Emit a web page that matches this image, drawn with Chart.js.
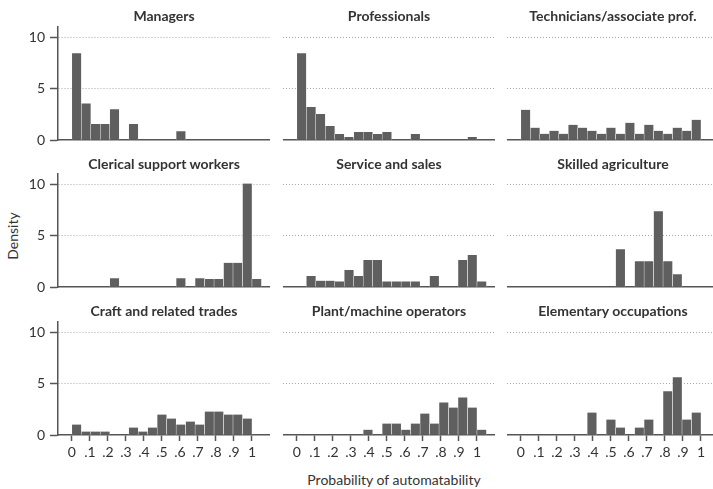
<!DOCTYPE html>
<html><head><meta charset="utf-8">
<script src="https://cdn.jsdelivr.net/npm/chart.js@4"></script>
<style>
html,body{margin:0;padding:0;background:#fff;}
body{width:713px;height:489px;overflow:hidden;position:relative;font-family:Lato,sans-serif;color:#333;}
canvas{position:absolute;}
.ttl{position:absolute;font-weight:bold;font-size:14px;white-space:nowrap;transform:translate(-50%,-50%);color:#333;}
.axt{position:absolute;font-size:14px;white-space:nowrap;transform:translate(-50%,-50%);color:#333;}
</style></head><body>
<div class="axt" style="left:12px;top:236px;transform:translate(-50%,-50%) rotate(-90deg);">Density</div>
<div class="axt" style="left:394px;top:479px;">Probability of automatability</div>
<script>
// bin centres (bins of width 1/19 starting at 0)
const binCenters = [0.0263,0.0789,0.1316,0.1842,0.2368,0.2895,0.3421,0.3947,0.4474,0.5,
                    0.5526,0.6053,0.6579,0.7105,0.7632,0.8158,0.8684,0.9211,0.9737,1.0263];
const xTickValues = [0,0.1,0.2,0.3,0.4,0.5,0.6,0.7,0.8,0.9,1];
const xTickLabels = ['0','.1','.2','.3','.4','.5','.6','.7','.8','.9','1'];
const yTickValues = [0,5,10];
const yTickLabels = ['0','5','10'];
const panelTitles = ['Managers','Professionals','Technicians/associate prof.',
                     'Clerical support workers','Service and sales','Skilled agriculture',
                     'Craft and related trades','Plant/machine operators','Elementary occupations'];

const managers      = [8.45,3.56,1.55,1.55,3.0,0,1.55,0,0,0,0,0.84,0,0,0,0,0,0,0,0];
const professionals = [8.44,3.22,2.54,1.37,0.59,0.29,0.78,0.78,0.59,0.78,0,0,0.59,0,0,0,0,0,0.29,0];
const technicians   = [2.94,1.2,0.61,0.9,0.61,1.48,1.2,0.9,0.61,1.2,0.61,1.68,0.61,1.48,0.9,0.61,1.2,0.9,1.97,0];
const clerical      = [0,0,0,0,0.85,0,0,0,0,0,0,0.85,0,0.85,0.78,0.78,2.35,2.35,10.07,0.78];
const serviceSales  = [0,1.07,0.62,0.62,0.54,1.66,1.07,2.63,2.63,0.54,0.54,0.54,0.54,0,1.07,0,0,2.63,3.12,0.54];
const agriculture   = [0,0,0,0,0,0,0,0,0,0,3.67,0,2.5,2.5,7.37,2.5,1.23,0,0,0];
const craft         = [1.01,0.33,0.33,0.33,0,0,0.72,0.33,0.72,1.99,1.6,1.01,1.31,1.01,2.29,2.29,1.99,1.99,1.6,0];
const plant         = [0,0,0,0,0,0,0,0.52,0,1.11,1.11,0.52,1.11,2.09,1.11,3.17,2.68,3.66,2.68,0.52];
const elementary    = [0,0,0,0,0,0,0,2.19,0,1.5,0.72,0,0.72,1.5,0,4.25,5.62,1.5,2.19,0];

const panelSeries = [managers,professionals,technicians,clerical,serviceSales,agriculture,craft,plant,elementary];

// layout
const colLeft = [0,283,507];
const colWidth = [270,212,212];
const yAxisW = [58,0,0];
const rowTop = [27,174,322];
const titleY = [15,163,310];
const plotH = 113;
const padTop = 12;

const AXIS = '#555';
const BAR = '#5f5f5f';
const GRID = '#a8a8a8';
const FONT = {family:'Lato', size:14};

panelSeries.forEach((series, i) => {
  const r = Math.floor(i/3), c = i%3;
  const xH = r === 2 ? 34 : 16;
  const cv = document.createElement('canvas');
  const w = colWidth[c], h = plotH + padTop + xH;
  cv.width = w; cv.height = h;
  cv.style.left = colLeft[c] + 'px';
  cv.style.top = (rowTop[r] - padTop) + 'px';
  cv.style.width = w + 'px'; cv.style.height = h + 'px';
  document.body.appendChild(cv);

  const t = document.createElement('div');
  t.className = 'ttl';
  t.textContent = panelTitles[i];
  t.style.left = (colLeft[c] + yAxisW[c] + (colWidth[c]-yAxisW[c])/2) + 'px';
  t.style.top = titleY[r] + 'px';
  document.body.appendChild(t);

  new Chart(cv, {
    type: 'bar',
    data: {
      datasets: [{
        data: binCenters.map((x,k) => ({x: x, y: series[k]})),
        backgroundColor: BAR,
        borderColor: '#ffffff',
        borderWidth: {left:0.5, right:0.5, top:0, bottom:0},
        barPercentage: 1,
        categoryPercentage: 1
      }]
    },
    options: {
      responsive: false,
      animation: false,
      events: [],
      layout: {padding: {top: padTop, left: 0, right: 0, bottom: 0}},
      plugins: {legend: {display:false}, tooltip: {enabled:false}, title: {display:false}},
      scales: {
        x: {
          type: 'linear', min: -0.077, max: 1.1, offset: false,
          grid: {display: true, drawOnChartArea: false, drawTicks: r === 2, tickLength: 6,
                 tickColor: AXIS, tickWidth: 1.5, offset: false},
          border: {display: true, color: AXIS, width: 1.5},
          ticks: {display: r === 2, font: FONT, color: '#333', padding: 3, maxRotation: 0,
                  autoSkip: false, callback: (v, idx) => xTickLabels[idx]},
          afterBuildTicks: s => { s.ticks = xTickValues.map(v => ({value: v})); },
          afterFit: s => { s.height = xH; s.paddingLeft = 0; s.paddingRight = 0; }
        },
        y: {
          type: 'linear', min: 0, max: 11,
          grid: {color: ctx => (ctx.tick && ctx.tick.value === 0) ? 'rgba(0,0,0,0)' : GRID,
                 lineWidth: 1, drawTicks: c === 0, tickLength: 8, tickColor: AXIS,
                 tickWidth: 1.5, tickBorderDash: []},
          border: {display: c === 0, color: AXIS, width: 1.5, dash: [1,2]},
          ticks: {display: c === 0, font: FONT, color: '#333', padding: 5,
                  callback: (v, idx) => yTickLabels[idx]},
          afterBuildTicks: s => { s.ticks = yTickValues.map(v => ({value: v})); },
          afterFit: s => { s.width = yAxisW[c]; s.paddingTop = 0; s.paddingBottom = 0; }
        }
      }
    }
  });
});
</script>
</body></html>
